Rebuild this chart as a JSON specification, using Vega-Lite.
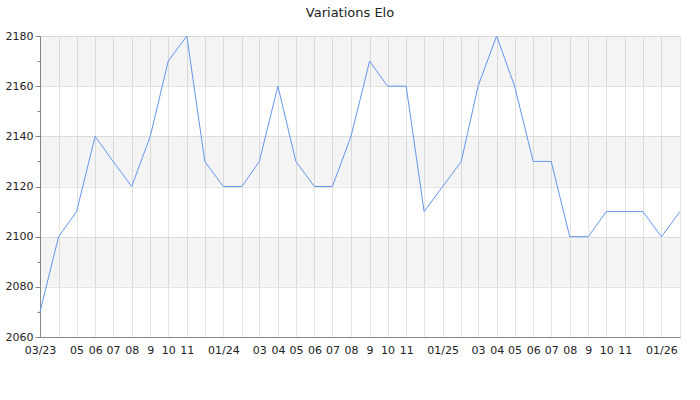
{
  "$schema": "https://vega.github.io/schema/vega-lite/v6.json",
  "width": 640,
  "height": 301,
  "autosize": "none",
  "padding": {"left": 40, "top": 36, "right": 20, "bottom": 63},
  "background": "white",
  "title": {"text": "Variations Elo", "fontSize": 13, "fontWeight": "normal", "font": "DejaVu Sans", "color": "#222", "dx": -10, "offset": 10},
  "config": {"view": {"stroke": null}, "font": "DejaVu Sans"},
  "layer": [
    {
      "data": {"values": [
        {"lo": 2080, "hi": 2100},
        {"lo": 2120, "hi": 2140},
        {"lo": 2160, "hi": 2180}
      ]},
      "mark": {"type": "rect", "color": "#000000", "opacity": 0.045},
      "encoding": {
        "y": {"field": "lo", "type": "quantitative", "scale": {"domain": [2060, 2180], "nice": false, "zero": false},
          "axis": {"orient": "left", "values": [2070, 2090, 2110, 2130, 2150, 2170], "labels": false, "grid": false, "domain": false, "tickSize": 3, "tickColor": "#888", "title": null}},
        "y2": {"field": "hi"}
      }
    },
    {
      "data": {"values": [
        {"date": "2023-03-01", "elo": 2070},
        {"date": "2023-04-01", "elo": 2100},
        {"date": "2023-05-01", "elo": 2110},
        {"date": "2023-06-01", "elo": 2140},
        {"date": "2023-07-01", "elo": 2130},
        {"date": "2023-08-01", "elo": 2120},
        {"date": "2023-09-01", "elo": 2140},
        {"date": "2023-10-01", "elo": 2170},
        {"date": "2023-11-01", "elo": 2180},
        {"date": "2023-12-01", "elo": 2130},
        {"date": "2024-01-01", "elo": 2120},
        {"date": "2024-02-01", "elo": 2120},
        {"date": "2024-03-01", "elo": 2130},
        {"date": "2024-04-01", "elo": 2160},
        {"date": "2024-05-01", "elo": 2130},
        {"date": "2024-06-01", "elo": 2120},
        {"date": "2024-07-01", "elo": 2120},
        {"date": "2024-08-01", "elo": 2140},
        {"date": "2024-09-01", "elo": 2170},
        {"date": "2024-10-01", "elo": 2160},
        {"date": "2024-11-01", "elo": 2160},
        {"date": "2024-12-01", "elo": 2110},
        {"date": "2025-01-01", "elo": 2120},
        {"date": "2025-02-01", "elo": 2130},
        {"date": "2025-03-01", "elo": 2160},
        {"date": "2025-04-01", "elo": 2180},
        {"date": "2025-05-01", "elo": 2160},
        {"date": "2025-06-01", "elo": 2130},
        {"date": "2025-07-01", "elo": 2130},
        {"date": "2025-08-01", "elo": 2100},
        {"date": "2025-09-01", "elo": 2100},
        {"date": "2025-10-01", "elo": 2110},
        {"date": "2025-11-01", "elo": 2110},
        {"date": "2025-12-01", "elo": 2110},
        {"date": "2026-01-01", "elo": 2100},
        {"date": "2026-02-01", "elo": 2110}
      ]},
      "mark": {"type": "line", "color": "#6495ed", "strokeWidth": 1},
      "encoding": {
        "x": {"field": "date", "type": "temporal",
          "scale": {"type": "utc", "nice": false},
          "axis": {"tickCount": {"interval": "month", "step": 1}, "grid": true, "gridColor": "#e3e3e3", "ticks": false, "domainColor": "#888", "labelColor": "#222", "labelFontSize": 11, "labelPadding": 7, "labelOverlap": false, "labelBound": false, "labelFlush": false, "title": null,
            "labelExpr": "(utcyear(datum.value)==2023 && utcmonth(datum.value)==2) ? '03/23' : utcmonth(datum.value)==0 ? utcFormat(datum.value, '%m/%y') : (utcmonth(datum.value)==1 || utcmonth(datum.value)==11 || (utcyear(datum.value)==2023 && utcmonth(datum.value)==3)) ? '' : utcmonth(datum.value)==8 ? '9' : utcFormat(datum.value, '%m')"}},
        "y": {"field": "elo", "type": "quantitative", "scale": {"domain": [2060, 2180], "nice": false, "zero": false},
          "axis": {"orient": "left", "values": [2060, 2080, 2100, 2120, 2140, 2160, 2180], "format": "d", "grid": true, "gridColor": "#e3e3e3", "domainColor": "#888", "tickColor": "#888", "tickSize": 5, "labelColor": "#222", "labelFontSize": 11, "labelPadding": 2, "title": null}}
      }
    }
  ],
  "resolve": {"axis": {"y": "independent"}}
}
